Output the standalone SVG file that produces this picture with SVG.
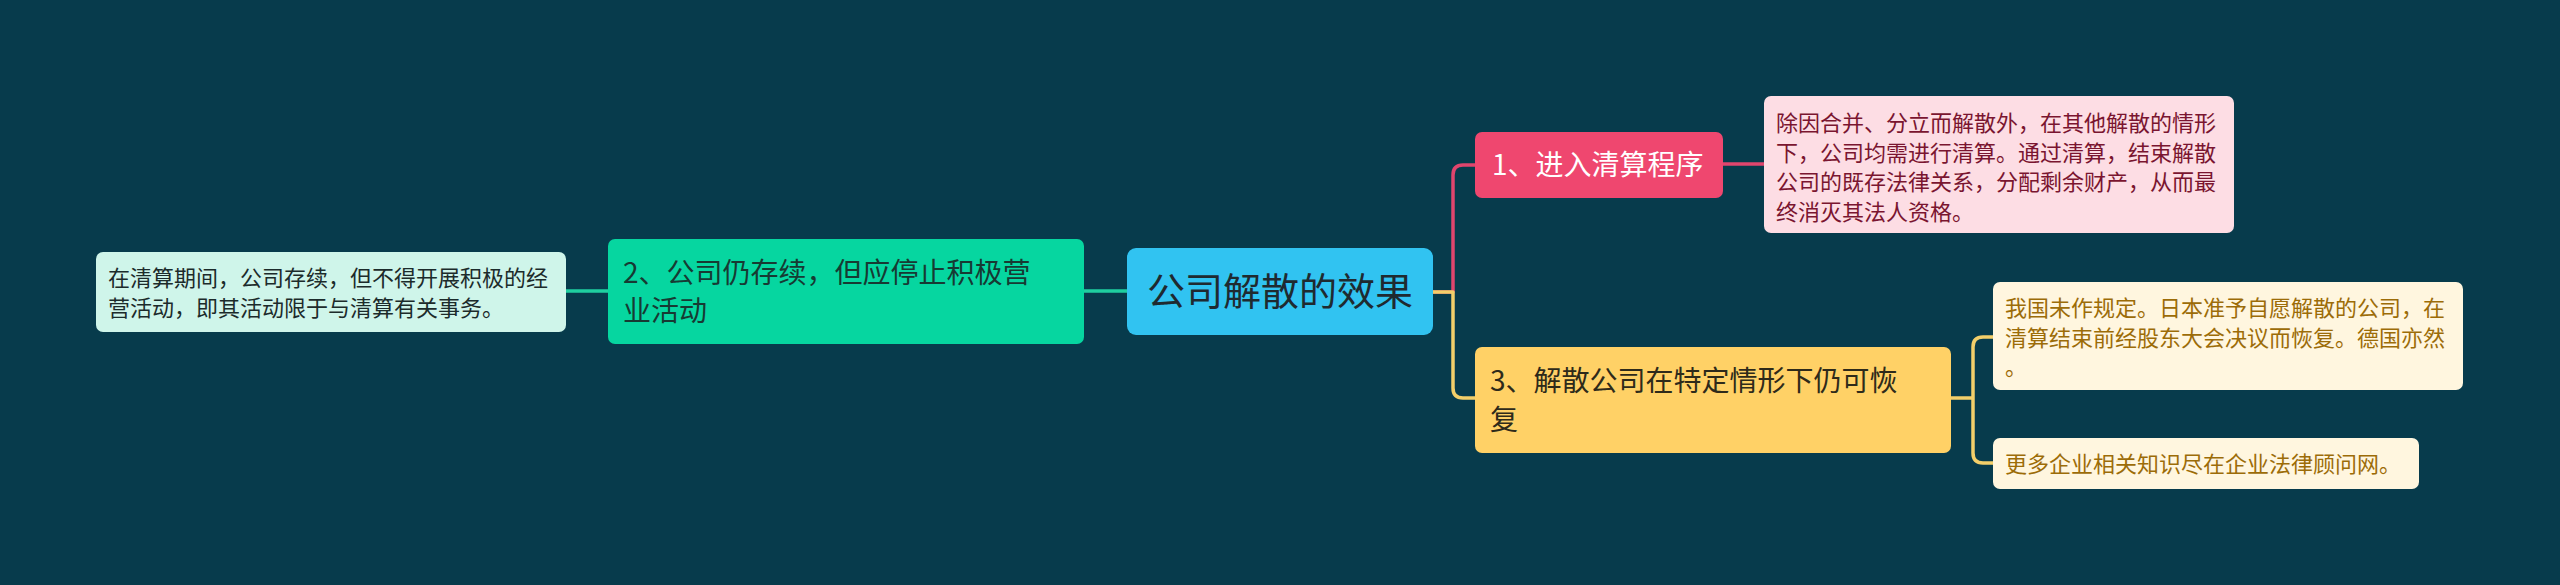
<svg xmlns="http://www.w3.org/2000/svg" width="2560" height="585" viewBox="0 0 2560 585">
<style>
text{font-family:"Noto Sans CJK SC","Noto Sans",sans-serif;}
.c{fill:none;stroke-width:3.5;stroke-linecap:round;stroke-linejoin:round;}
.t38{font-size:38px;fill:#1f2a30;}
.t28{font-size:28px;}
.t22{font-size:22px;}
</style>
<rect width="2560" height="585" fill="#073b4c"/>
<g id="connectors">
<path class="c" stroke="#e0456d" d="M1433,292 H1453 V175 Q1453,165 1463,165 H1475"/>
<path class="c" stroke="#f3cf6a" d="M1433,292 H1453 V388 Q1453,398 1463,398 H1475"/>
<path class="c" stroke="#e0456d" d="M1723,164 H1764"/>
<path class="c" stroke="#f3cf6a" d="M1951,398 H1973 V347 Q1973,337 1983,337 H1993 M1973,398 V453 Q1973,463 1983,463 H1993"/>
<path class="c" stroke="#1fcfa0" d="M1127,291 H1084 M608,291 H566"/>
</g>
<g id="center">
<rect x="1127" y="248" width="306" height="87" rx="9" fill="#31c3f1"/>
<text class="t38" x="1147" y="305">公司解散的效果</text>
</g>
<g id="n1">
<rect x="1475" y="132" width="248" height="66" rx="7" fill="#ef476f"/>
<text class="t28" x="1492" y="175" fill="#ffffff">1、进入清算程序</text>
</g>
<g id="n1d">
<rect x="1764" y="96" width="470" height="137" rx="7" fill="#fddde4"/>
<text class="t22" fill="#7a1530"><tspan x="1776" y="131">除因合并、分立而解散外，在其他解散的情形</tspan><tspan x="1776" y="160.5">下，公司均需进行清算。通过清算，结束解散</tspan><tspan x="1776" y="190">公司的既存法律关系，分配剩余财产，从而最</tspan><tspan x="1776" y="219.5">终消灭其法人资格。</tspan></text>
</g>
<g id="n3">
<rect x="1475" y="347" width="476" height="106" rx="7" fill="#ffd166"/>
<text class="t28" fill="#2e2a1a"><tspan x="1490" y="391">3、解散公司在特定情形下仍可恢</tspan><tspan x="1490" y="430">复</tspan></text>
</g>
<g id="n3d1">
<rect x="1993" y="282" width="470" height="108" rx="7" fill="#fff6df"/>
<text class="t22" fill="#9c6c08"><tspan x="2005" y="316">我国未作规定。日本准予自愿解散的公司，在</tspan><tspan x="2005" y="345.5">清算结束前经股东大会决议而恢复。德国亦然</tspan><tspan x="2005" y="375">。</tspan></text>
</g>
<g id="n3d2">
<rect x="1993" y="438" width="426" height="51" rx="7" fill="#fff6df"/>
<text class="t22" x="2005" y="472" fill="#9c6c08">更多企业相关知识尽在企业法律顾问网。</text>
</g>
<g id="n2">
<rect x="608" y="239" width="476" height="105" rx="7" fill="#06d6a0"/>
<text class="t28" fill="#173a33"><tspan x="623" y="283">2、公司仍存续，但应停止积极营</tspan><tspan x="623" y="321">业活动</tspan></text>
</g>
<g id="n2d">
<rect x="96" y="252" width="470" height="80" rx="7" fill="#cff5ea"/>
<text class="t22" fill="#1c2b2b"><tspan x="108" y="286">在清算期间，公司存续，但不得开展积极的经</tspan><tspan x="108" y="315.5">营活动，即其活动限于与清算有关事务。</tspan></text>
</g>
</svg>
